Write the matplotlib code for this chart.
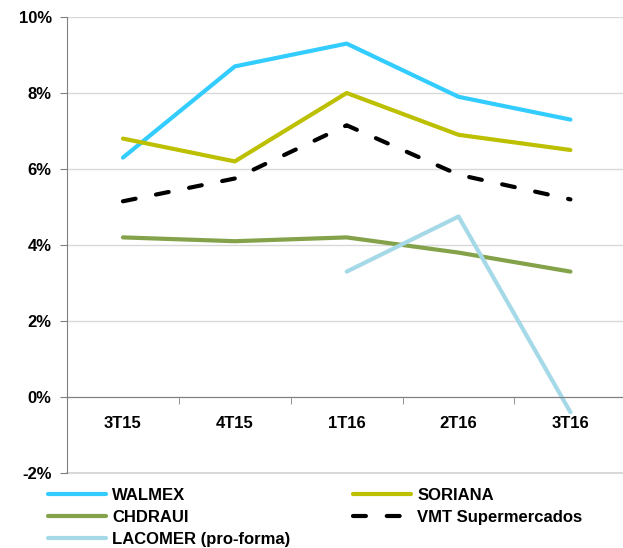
import matplotlib
matplotlib.use("Agg")
import matplotlib.pyplot as plt
import numpy as np

quarters = ["3T15", "4T15", "1T16", "2T16", "3T16"]
walmex = [6.3, 8.7, 9.3, 7.9, 7.3]
soriana = [6.8, 6.2, 8.0, 6.9, 6.5]
chdraui = [4.2, 4.1, 4.2, 3.8, 3.3]
vmt = [5.15, 5.75, 7.15, 5.85, 5.2]
lacomer = [np.nan, np.nan, 3.3, 4.75, -0.4]

plt.rcParams['font.family'] = ['Liberation Sans', 'DejaVu Sans']
plt.rcParams['font.weight'] = 'bold'

fig = plt.figure(figsize=(6.23, 5.48), dpi=100)
ax = fig.add_axes([67 / 623, 1 - 473 / 548, 1 - 67 / 623, (473 - 17) / 548])

x = np.arange(len(quarters))
lw = 3.0
l_w, = ax.plot(x, walmex, color="#33CCFF", lw=lw, label="WALMEX", solid_capstyle="round")
l_s, = ax.plot(x, soriana, color="#BCC000", lw=lw, label="SORIANA", solid_capstyle="round")
l_c, = ax.plot(x, chdraui, color="#84A24A", lw=lw, label="CHDRAUI", solid_capstyle="round")
l_v, = ax.plot(x, vmt, color="black", lw=lw, ls=(0, (3.1, 5.0)), dash_capstyle="round",
               label="VMT Supermercados")
l_l, = ax.plot(x, lacomer, color="#A5D9E8", lw=lw, label="LACOMER (pro-forma)", solid_capstyle="round")

ax.set_xlim(-0.5, 4.47)
ax.set_ylim(-2, 10)
ax.set_yticks(np.arange(-2, 11, 2))
ax.set_yticklabels([f"{v}%" for v in range(-2, 11, 2)])
ax.yaxis.grid(True, color="#D9D9D9", lw=1)
ax.axhline(-2, color="#D9D9D9", lw=1.5, clip_on=False, zorder=0)
ax.set_axisbelow(True)

ax.set_xticks(x)
ax.set_xticklabels(quarters)
ax.set_xticks(np.arange(-0.5, 4.5, 1), minor=True)
ax.tick_params(axis="x", which="major", length=0, pad=14, labelsize=12)
ax.tick_params(axis="x", which="minor", length=5, color="#808080", direction="out")
ax.tick_params(axis="y", length=5, color="#808080", direction="out", pad=6, labelsize=12)

ax.spines["bottom"].set_position(("data", 0))
ax.spines["bottom"].set_color("#808080")
ax.spines["left"].set_color("#808080")
ax.spines["top"].set_visible(False)
ax.spines["right"].set_visible(False)

handles = [l_w, l_c, l_l, l_s, l_v]
fig.legend(handles=handles, labels=[h.get_label() for h in handles], ncol=2,
           loc="upper left", bbox_to_anchor=(48 / 623, 1 - 488 / 548),
           frameon=False, handlelength=3.5, handletextpad=0.35,
           columnspacing=3.75, labelspacing=0.42, borderpad=0, borderaxespad=0,
           prop={"weight": "bold", "size": 12})

fig.savefig("out.png", dpi=100)
